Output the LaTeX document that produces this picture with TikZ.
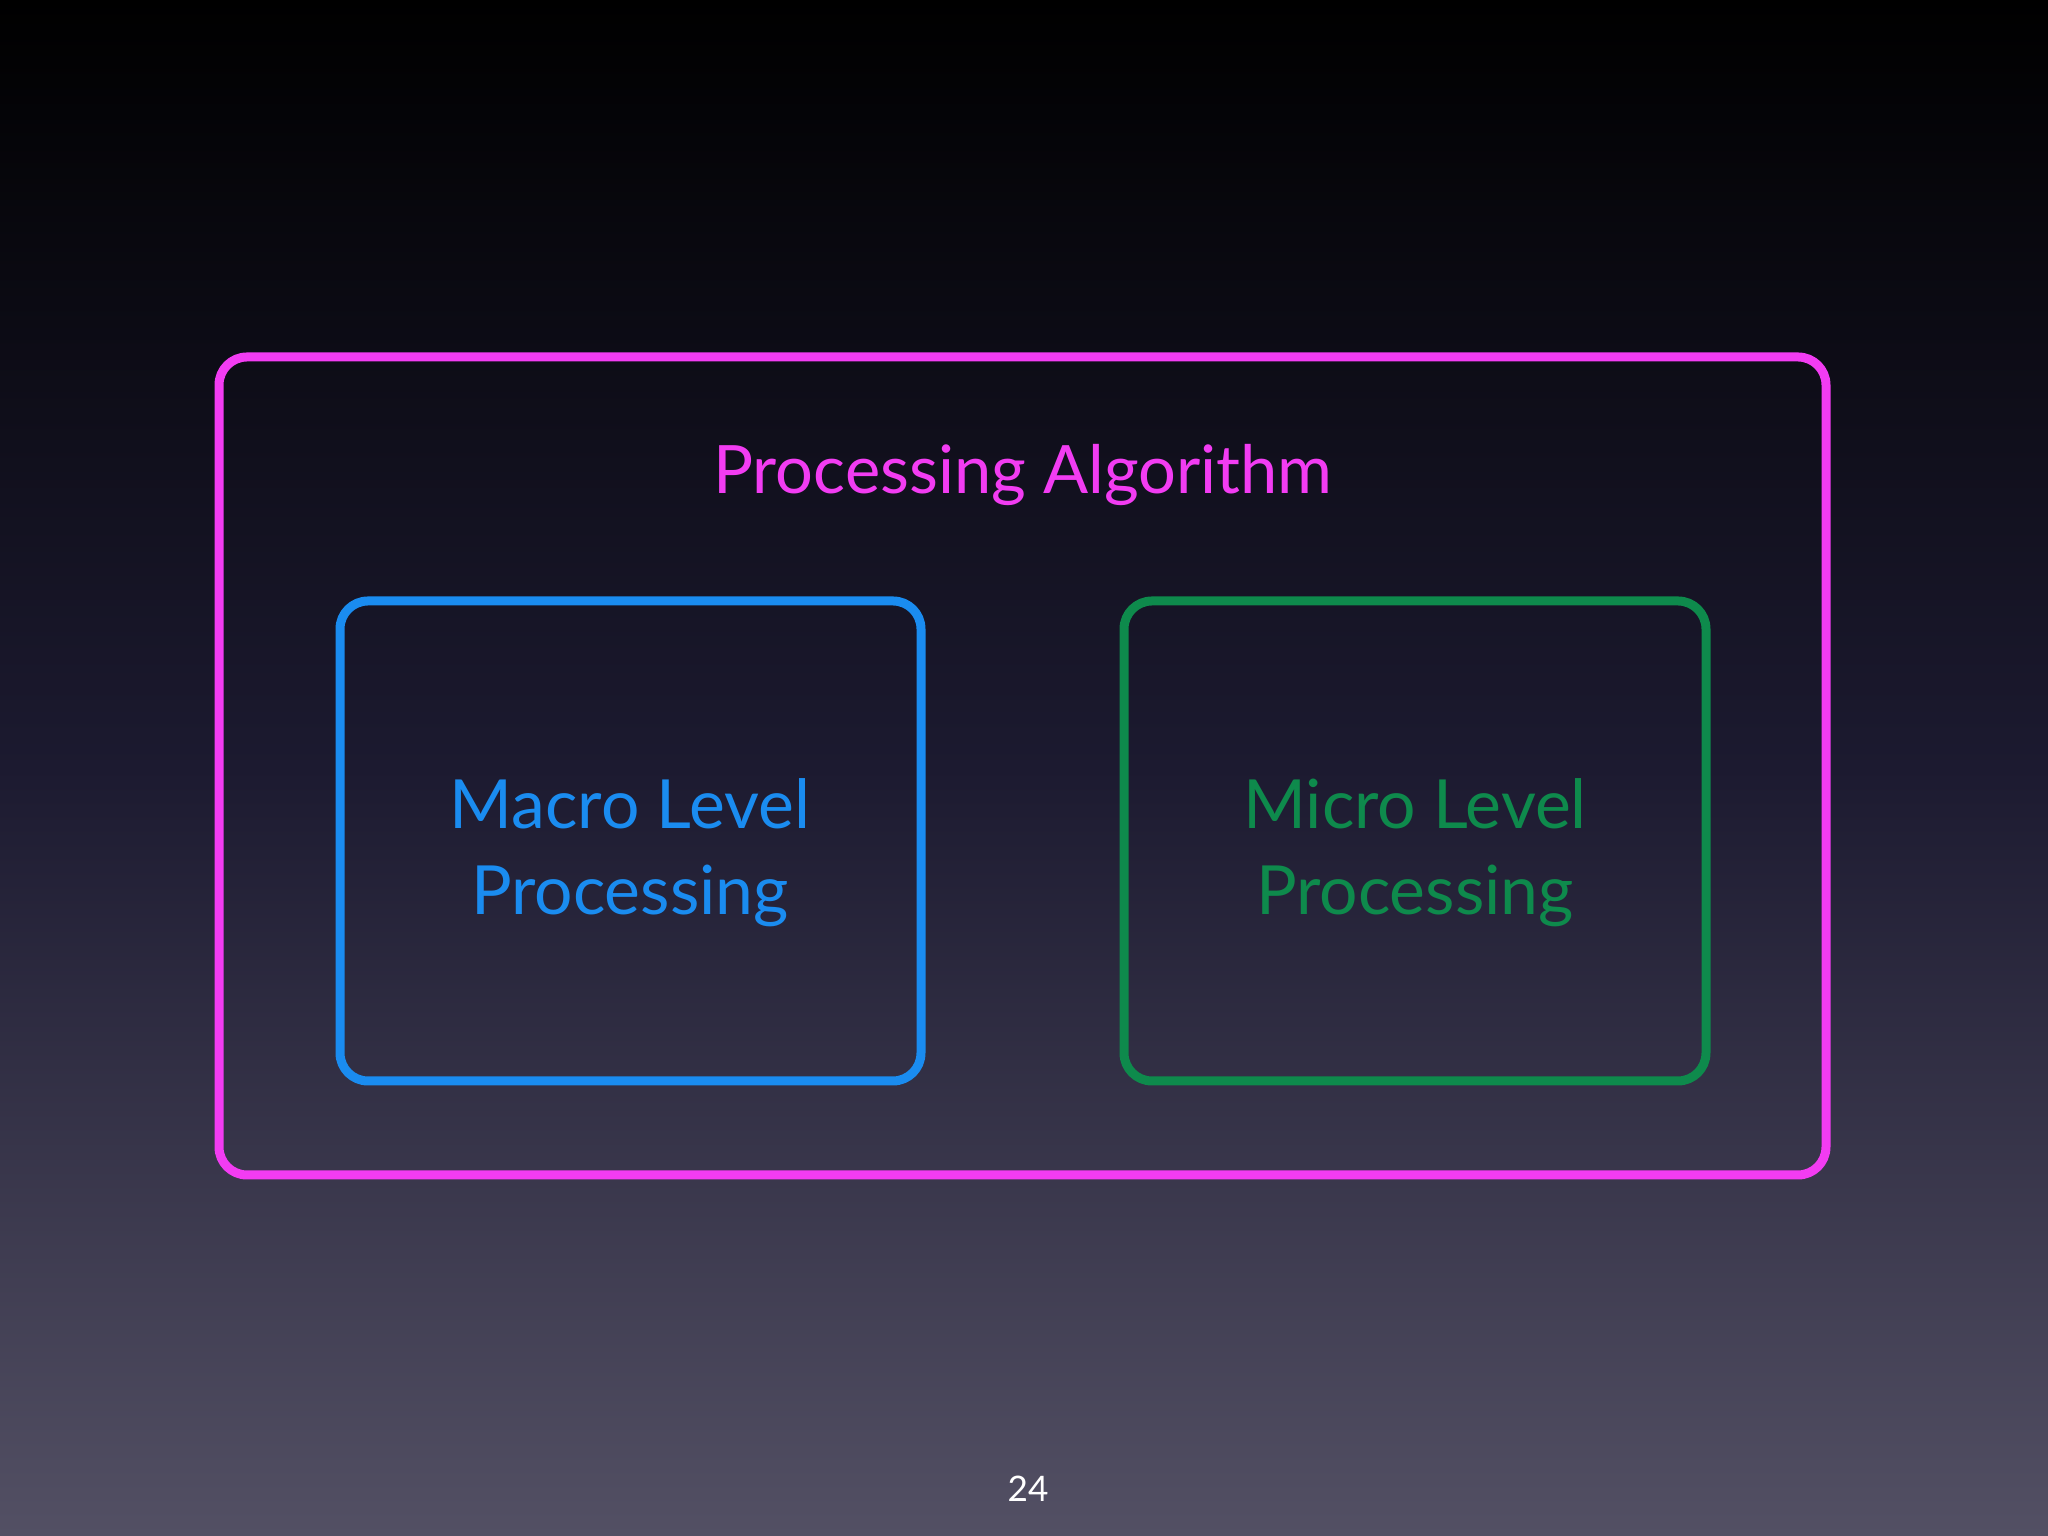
\documentclass[tikz,border=0pt]{standalone}
\usepackage{fontspec}
\setmainfont{Lato}
\definecolor{pinkc}{HTML}{F23CF2}
\definecolor{bluec}{HTML}{1A8CF0}
\definecolor{greenc}{HTML}{0E8A4C}
\definecolor{bgbot}{HTML}{535064}
\definecolor{bgmid}{HTML}{1C1A30}
\tikzset{
  chalk/.style={line width=0.09cm, rounded corners=0.28cm},
  boxtext/.style={font=\fontsize{19.3}{24.5}\selectfont, align=center}
}
\begin{document}
\begin{tikzpicture}
\shade[top color=black, bottom color=bgbot, middle color=bgmid] (0,0) rectangle (20.48,15.36);
\useasboundingbox (0,0) rectangle (20.48,15.36);
\draw[chalk, pinkc] (2.19,3.61) rectangle (18.26,11.79);
\node[text=pinkc, font=\fontsize{19}{21}\selectfont] (title) at (10.23,10.61) {Processing Algorithm};
\draw[chalk, bluec] (3.40,4.55) rectangle (9.21,9.35);
\draw[chalk, greenc] (11.24,4.55) rectangle (17.06,9.35);
\node[boxtext, text=bluec] (macro) at (6.30,6.83) {Macro Level\\Processing};
\node[boxtext, text=greenc] (micro) at (14.15,6.83) {Micro Level\\Processing};
\node[text=white, font=\fontsize{10}{12}\selectfont] (page) at (10.28,0.47) {24};
\end{tikzpicture}
\end{document}
